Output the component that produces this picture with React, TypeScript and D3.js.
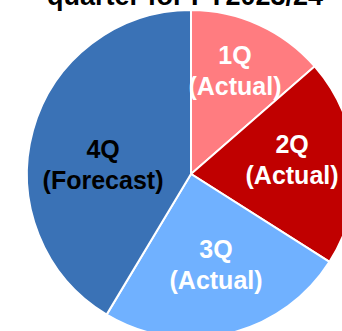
import React from "react";
import * as d3 from "d3";

const categories = ["1Q", "2Q", "3Q", "4Q"];
const subLabels = ["(Actual)", "(Actual)", "(Actual)", "(Forecast)"];
const values = [13.6, 20.4, 24.6, 41.4];
const colors = ["#FF7C80", "#C00000", "#70B1FF", "#3A72B6"];
const labelColors = ["#FFFFFF", "#FFFFFF", "#FFFFFF", "#000000"];
const titleText = "quarter for FY2023/24";

const W = 342;
const H = 331;
const cx = 191;
const cy = 174;
const R = 164;

// label anchor placement: angle (deg, clockwise from top) and radius
const labelAngle = [21.8, 78.3, 163.4, 280.3];
const labelR = [118.5, 103.2, 87.6, 89.4];

export default function App() {
  const pie = d3
    .pie<number>()
    .sort(null)
    .value((d) => d)
    .startAngle(0)
    .endAngle(2 * Math.PI);
  const arcs = pie(values);
  const arc = d3.arc<d3.PieArcDatum<number>>().innerRadius(0).outerRadius(R);

  return (
    <svg
      width={W}
      height={H}
      style={{ position: "absolute", left: 0, top: 0, fontFamily: "Liberation Sans, Arial, sans-serif" }}
    >
      <g transform={`translate(${cx},${cy})`}>
        {arcs.map((a, i) => (
          <path key={i} d={arc(a) || ""} fill={colors[i]} stroke="#FFFFFF" strokeWidth={2} />
        ))}
        {arcs.map((a, i) => {
          const ang = (labelAngle[i] * Math.PI) / 180;
          const x = Math.sin(ang) * labelR[i];
          const y = -Math.cos(ang) * labelR[i];
          return (
            <text
              key={"l" + i}
              x={x}
              y={y}
              textAnchor="middle"
              fill={labelColors[i]}
              fontWeight="bold"
              fontSize={25}
            >
              <tspan x={x} y={y}>{categories[i]}</tspan>
              <tspan x={x} y={y + 31}>{subLabels[i]}</tspan>
            </text>
          );
        })}
      </g>
      <text x={47} y={5} fontWeight="bold" fontSize={27} fill="#000000">
        {titleText}
      </text>
    </svg>
  );
}
